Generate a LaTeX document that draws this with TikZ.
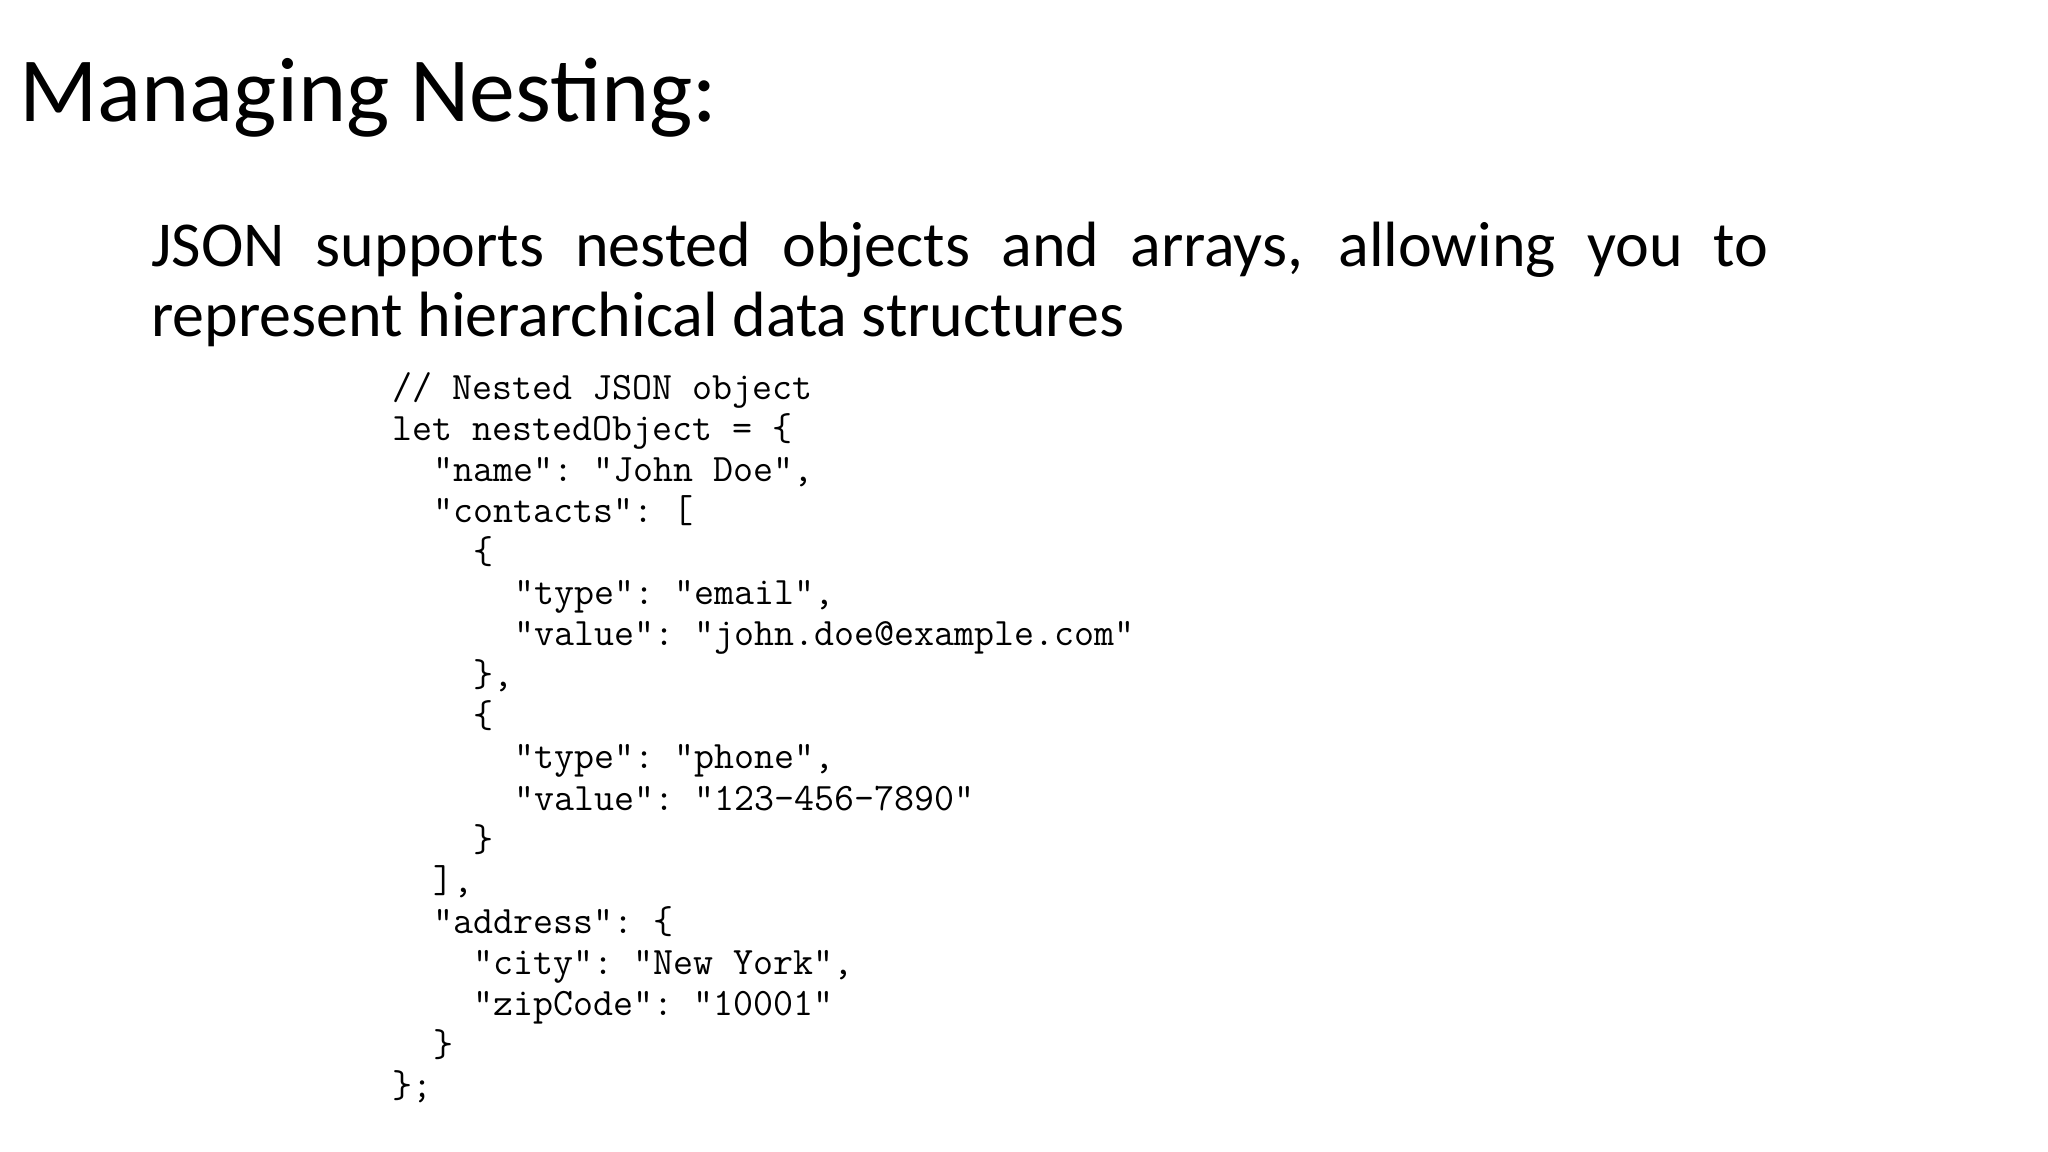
\documentclass[tikz,border=0pt]{standalone}
\usepackage{fontspec}
\setmainfont{Carlito}
\tikzstyle{slidetitle}=[anchor=base west,inner sep=0pt,font=\fontsize{43}{52}\selectfont]
\tikzstyle{bodytext}=[anchor=base west,inner sep=0pt,text width=758pt,align=justify,font=\fontsize{30}{32.8}\selectfont]
\tikzstyle{codeline}=[anchor=base west,inner sep=0pt,font=\ttfamily\frenchspacing\fontsize{18.2}{21}\selectfont]

\begin{document}
\begin{tikzpicture}[x=0.46875pt,y=-0.46875pt]

   \fill[white] (0,0) rectangle (2048,1152);
   \useasboundingbox (0,0) rectangle (2048,1152);

   \def\cx{392};
   \def\cy{399};
   \def\cw{20.38};
   \def\ch{41.1};

% Title
   \node[slidetitle] (title) at (19,122) {Managing Nesting:};

% Text
   \node[bodytext] (text) at (151,267) {JSON supports nested objects and arrays, allowing you to\linebreak represent hierarchical data structures};

% Code
    \foreach \i/\ind/\txt in {0/0/{// Nested JSON object}, 1/0/{let nestedObject = \{}, 2/2/{"name": "John Doe",}, 3/2/{"contacts": [},
        4/4/{\{}, 5/6/{"type": "email",}, 6/6/{"value": "john.doe@example.com"}, 7/4/{\},}, 8/4/{\{}, 9/6/{"type": "phone",},
        10/6/{"value": "123-456-7890"}, 11/4/{\}}, 12/2/{],}, 13/2/{"address": \{}, 14/4/{"city": "New York",},
        15/4/{"zipCode": "10001"}, 16/2/{\}}, 17/0/{\};}}
    	\node[codeline] (code\i) at (\cx+\ind*\cw, \cy+\i*\ch) {\txt};

\end{tikzpicture}
\end{document}
